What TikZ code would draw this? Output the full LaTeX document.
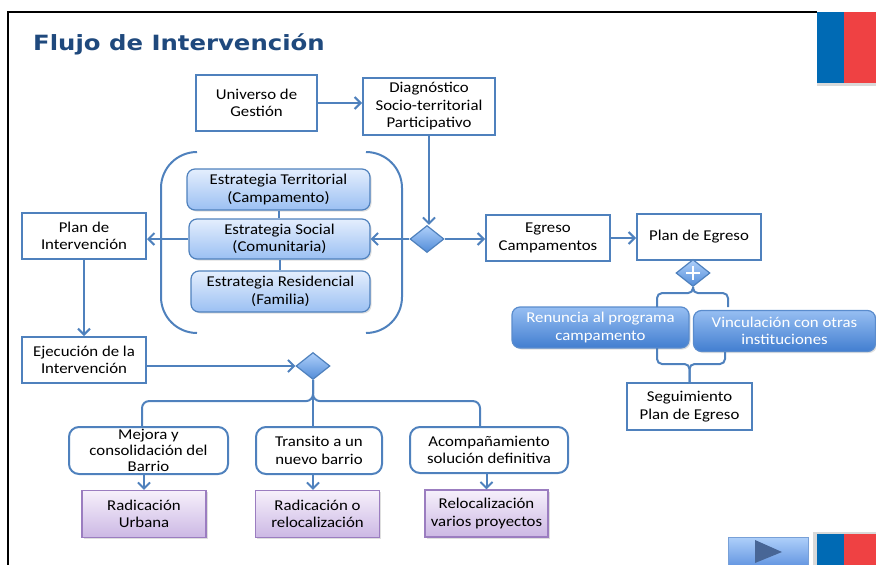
\documentclass[tikz,border=0pt]{standalone}
\usepackage{fontspec}
\setmainfont{Carlito}[FakeStretch=1.12]
\newfontfamily\titlefont{DejaVu Sans}[FakeStretch=1.16]
\usetikzlibrary{arrows.meta,shadows,shapes.geometric}
\definecolor{obl}{RGB}{79,129,189}
\definecolor{ttl}{RGB}{31,73,125}
\definecolor{flagb}{RGB}{0,106,180}
\definecolor{flagr}{RGB}{239,65,67}
\definecolor{esttop}{RGB}{228,238,253}
\definecolor{estbot}{RGB}{155,192,243}
\definecolor{dktop}{RGB}{150,190,242}
\definecolor{dkbot}{RGB}{66,126,208}
\definecolor{dkbord}{RGB}{90,140,205}
\definecolor{dmtop}{RGB}{175,208,250}
\definecolor{dmbot}{RGB}{82,140,216}
\definecolor{pptop}{RGB}{246,240,251}
\definecolor{ppbot}{RGB}{204,184,228}
\definecolor{ppbord}{RGB}{155,125,192}
\definecolor{playtri}{RGB}{72,102,150}
\tikzset{
  txt/.style={font=\fontsize{15}{17.5}\selectfont, align=center, inner sep=0pt, text=black},
  wbox/.style={txt, draw=obl, line width=2pt, fill=white},
  rbox/.style={wbox, rounded corners=10pt},
  estbox/.style={txt, draw=obl, line width=1.2pt, rounded corners=8pt, top color=esttop, bottom color=estbot,
     drop shadow={shadow xshift=1.5pt, shadow yshift=-1.5pt, opacity=0.25}},
  dkbox/.style={txt, text=white, draw=dkbord, line width=1.2pt, rounded corners=8pt, top color=dktop, bottom color=dkbot,
     drop shadow={shadow xshift=1.5pt, shadow yshift=-1.5pt, opacity=0.25}},
  ppbox/.style={txt, draw=ppbord, line width=1.2pt, top color=pptop, bottom color=ppbot,
     drop shadow={shadow xshift=1.5pt, shadow yshift=-1.5pt, opacity=0.25}},
  dmd/.style={diamond, draw=obl, line width=1.2pt, top color=dmtop, bottom color=dmbot, inner sep=0pt,
     minimum width=34pt, minimum height=27pt, aspect=1.26},
  ln/.style={draw=obl, line width=2pt},
  arr/.style={ln, -{Straight Barb[length=6pt,width=12pt,line width=2pt]}},
}
\begin{document}
\begin{tikzpicture}[x=1pt,y=-1pt]
\useasboundingbox (0,0) rectangle (876,565);
% frame and decorations
\draw[line width=2pt, black] (8,565) -- (8,12) -- (817,12);
\fill[black!15] (817,83) rectangle (876,86);
\fill[flagb] (817,12) rectangle (844,83);
\fill[flagr] (844,12) rectangle (876,83);
\fill[black!15] (813,532) rectangle (876,565);
\fill[flagb] (817,534) rectangle (844,565);
\fill[flagr] (844,534) rectangle (876,565);
\shade[top color=dmtop, bottom color={rgb,255:red,100;green,150;blue,225}, draw={rgb,255:red,120;green,160;blue,215}, line width=0.8pt] (728,537) rectangle (808,566);
\fill[playtri] (755,540) -- (782,552) -- (755,563) -- cycle;
% title
\node[anchor=base west, inner sep=0pt, text=ttl, font=\titlefont\bfseries\fontsize{21}{24}\selectfont] (title) at (33,50) {Flujo de Intervención};
% brackets
\draw[ln, rounded corners=36pt] (197,152) -- (161,152) -- (161,333) -- (197,333);
\draw[ln, rounded corners=36pt] (366,152) -- (402,152) -- (402,333) -- (366,333);
% nodes
\node[wbox, minimum width=121pt, minimum height=56pt] (univ) at (256.5,103) {Universo de\\Gestión};
\node[wbox, minimum width=132pt, minimum height=57pt] (diag) at (429,106.5) {Diagnóstico\\Socio-territorial\\Participativo};
\node[estbox, minimum width=183pt, minimum height=41pt] (terr) at (278.5,189.5) {Estrategia Territorial\\(Campamento)};
\node[estbox, minimum width=181pt, minimum height=40pt] (soc) at (279.5,239) {Estrategia Social\\(Comunitaria)};
\node[estbox, minimum width=179pt, minimum height=41pt] (res) at (280.5,291.5) {Estrategia Residencial\\(Familia)};
\node[wbox, minimum width=124pt, minimum height=46pt] (plan) at (84,236) {Plan de\\Intervención};
\node[dmd] (d1) at (427,239) {};
\node[wbox, minimum width=124pt, minimum height=46pt] (egr) at (548,238) {Egreso\\Campamentos};
\node[wbox, minimum width=124pt, minimum height=46pt] (pleg) at (699,237) {Plan de Egreso};
\node[dmd] (pd) at (693,273) {};
\draw[white, line width=2pt] (pd.center) ++(-7,0) -- ++(14,0);
\draw[white, line width=2pt] (pd.center) ++(0,-7) -- ++(0,14);
\node[dkbox, minimum width=177pt, minimum height=41pt] (ren) at (600.5,327.5) {Renuncia al programa\\campamento};
\node[dkbox, minimum width=182pt, minimum height=41pt] (vin) at (784.5,331) {Vinculación con otras\\instituciones};
\node[wbox, minimum width=125pt, minimum height=47pt] (seg) at (689.5,406.5) {Seguimiento\\Plan de Egreso};
\node[wbox, minimum width=124pt, minimum height=46pt] (ejec) at (84,360) {Ejecución de la\\Intervención};
\node[dmd] (d2) at (313,366) {};
\node[rbox, minimum width=159pt, minimum height=47pt, font=\fontsize{15}{16}\selectfont] (mej) at (148.5,450.5) {Mejora y\\consolidación del\\Barrio};
\node[rbox, minimum width=126pt, minimum height=47pt] (tra) at (319,450.5) {Transito a un\\nuevo barrio};
\node[rbox, minimum width=158pt, minimum height=46pt] (aco) at (489,450) {Acompañamiento\\solución definitiva};
\node[ppbox, minimum width=124pt, minimum height=47pt] (p1) at (144,514) {Radicación\\Urbana};
\node[ppbox, minimum width=124pt, minimum height=47pt] (p2) at (317.5,514) {Radicación o\\relocalización};
\node[ppbox, minimum width=123pt, minimum height=47pt] (p3) at (486.5,513.5) {Relocalización\\varios proyectos};
% coordinates for branch ends
\coordinate (bl) at (142,427);
\coordinate (br) at (480,427);
\coordinate (pl) at (657,307);
\coordinate (pr) at (728,307);
\coordinate (ql) at (657,348);
\coordinate (qr) at (725,352);
% connectors
\draw[arr] (univ.east) -- (univ.east -| diag.west);
\draw[arr] (diag.south) -- (diag.south |- d1.north);
\draw[arr] (d1.west) -- (d1.west -| soc.east);
\draw[arr] (soc.west) -- (soc.west -| plan.east);
\draw[arr] (d1.east) -- (d1.east -| egr.west);
\draw[arr] (egr.east) -- (egr.east -| pleg.west);
\draw[ln] (terr.south) -- (terr.south |- soc.north);
\draw[ln] (soc.south) -- (soc.south |- res.north);
\draw[arr] (plan.south) -- (ejec.north);
\draw[arr] (ejec.east |- d2.west) -- (d2.west);
\draw[ln, rounded corners=7pt] (d2.south) -- ++(0,21) -| (bl);
\draw[ln, rounded corners=7pt] (d2.south) -- ++(0,21) -| (br);
\draw[ln] (d2.south) -- (d2.south |- tra.north);
\draw[arr] (p1.north |- mej.south) -- (p1.north);
\draw[arr] (d2.south |- tra.south) -- (d2.south |- p2.north);
\draw[arr] (p3.north |- aco.south) -- (p3.north);
\draw[ln, rounded corners=5pt] (pd.south) -- ++(0,6) -| (pl);
\draw[ln, rounded corners=5pt] (pd.south) -- ++(0,6) -| (pr);
\draw[ln, rounded corners=5pt] (seg.north) -- ++(0,-18) -| (ql);
\draw[ln, rounded corners=5pt] (seg.north) -- ++(0,-18) -| (qr);
\end{tikzpicture}
\end{document}
